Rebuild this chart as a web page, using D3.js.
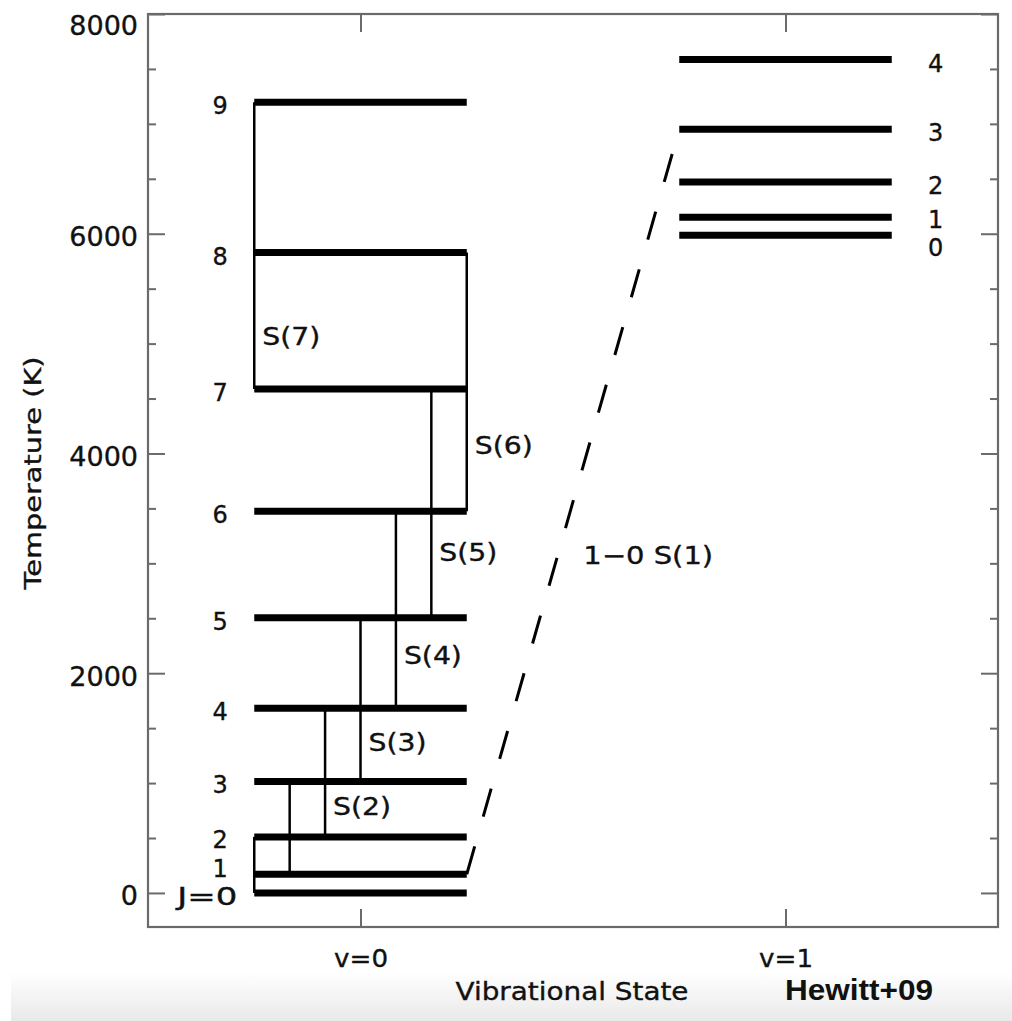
<!DOCTYPE html>
<html>
<head>
<meta charset="utf-8">
<script src="https://cdn.jsdelivr.net/npm/d3@7"></script>
<style>
  html, body { margin: 0; padding: 0; background: #fff; }
  svg { display: block; }
  text { font-family: "DejaVu Sans", sans-serif; fill: #111; stroke: #111; stroke-width: 0.35px; }
</style>
</head>
<body>
<svg id="chart" width="1012" height="1021"></svg>
<script>
// ---------- data ----------
const vibStates = ["v=0", "v=1"];
const v0Energy = [0, 170, 510, 1015, 1682, 2504, 3474, 4586, 5829, 7197];   // K, J = 0..9
const v0Labels = ["J=0", "1", "2", "3", "4", "5", "6", "7", "8", "9"];
const v1Energy = [5987, 6150, 6471, 6952, 7585];                             // K, J = 0..4
const v1Labels = ["0", "1", "2", "3", "4"];
const sLower = [0, 1, 2, 3, 4, 5, 6, 7];                                     // S(J): J+2 -> J
const sLabels = ["", "", "S(2)", "S(3)", "S(4)", "S(5)", "S(6)", "S(7)"];
const sLabelT = [null, null, 790, 1370, 2170, 3100, 4080, 5070];             // K, where label sits
const yTickValues = [0, 2000, 4000, 6000, 8000];
const yMinorValues = [500, 1000, 1500, 2500, 3000, 3500, 4500, 5000, 5500, 6500, 7000, 7500];
const lineLabel = "1\u22120 S(1)";
const axisTitleY = "Temperature (K)";
const axisTitleX = "Vibrational State";
const credit = "Hewitt+09";

// ---------- layout ----------
const svg = d3.select("#chart");
const L = 148, R = 998, T = 14, B = 927;
const x = d3.scaleLinear().domain([-0.5, 1.5]).range([L, R]);
const y = d3.scaleLinear().domain([-310, 8000]).range([B, T]);
const halfW = 0.25;
const axisColor = "#6a6a6a";

// bottom grey band (screenshot shading)
const defs = svg.append("defs");
const grad = defs.append("linearGradient").attr("id", "band").attr("x1", 0).attr("x2", 0).attr("y1", 0).attr("y2", 1);
grad.append("stop").attr("offset", "0%").attr("stop-color", "#ffffff");
grad.append("stop").attr("offset", "100%").attr("stop-color", "#e9e9e9");
svg.append("rect").attr("x", 11).attr("y", 972).attr("width", 1001).attr("height", 49).attr("fill", "url(#band)");

// axes: left / right with inward ticks
function styleAxis(g) {
  g.select(".domain").remove();
  g.selectAll(".tick line").attr("stroke", axisColor).attr("stroke-width", 2);
}
const gl = svg.append("g").attr("transform", `translate(${L},0)`)
  .call(d3.axisLeft(y).tickValues(yTickValues).tickSize(-17).tickPadding(10).tickFormat(d3.format("d")));
styleAxis(gl);
gl.selectAll(".tick text").attr("font-size", 27).attr("fill", "#111")
  .attr("dy", null)
  .each(function(d) { d3.select(this).attr("y", Math.max(y(d) + 12, 34) - y(d)); });
const glm = svg.append("g").attr("transform", `translate(${L},0)`)
  .call(d3.axisLeft(y).tickValues(yMinorValues).tickSize(-8).tickFormat(""));
styleAxis(glm);
const gr = svg.append("g").attr("transform", `translate(${R},0)`)
  .call(d3.axisRight(y).tickValues(yTickValues).tickSize(-17).tickFormat(""));
styleAxis(gr);
const grm = svg.append("g").attr("transform", `translate(${R},0)`)
  .call(d3.axisRight(y).tickValues(yMinorValues).tickSize(-8).tickFormat(""));
styleAxis(grm);

// bottom / top axis
const gb = svg.append("g").attr("transform", `translate(0,${B})`)
  .call(d3.axisBottom(x).tickValues([0, 1]).tickSize(-18).tickFormat((d, i) => vibStates[i]));
styleAxis(gb);
gb.selectAll(".tick text").attr("font-size", 25).attr("fill", "#111").attr("dy", null).attr("y", 40)
  .attr("textLength", 54).attr("lengthAdjust", "spacingAndGlyphs");
const gt = svg.append("g").attr("transform", `translate(0,${T})`)
  .call(d3.axisTop(x).tickValues([0, 1]).tickSize(-18).tickFormat(""));
styleAxis(gt);

// frame
svg.append("rect").attr("x", L).attr("y", T).attr("width", R - L).attr("height", B - T)
  .attr("fill", "none").attr("stroke", axisColor).attr("stroke-width", 2.2);

// ---------- energy levels ----------
const gLev = svg.append("g");
gLev.selectAll("line.v0").data(v0Energy).join("line").attr("class", "v0")
  .attr("x1", x(-halfW)).attr("x2", x(halfW))
  .attr("y1", d => y(d)).attr("y2", d => y(d))
  .attr("stroke", "#000").attr("stroke-width", 7);
gLev.selectAll("line.v1").data(v1Energy).join("line").attr("class", "v1")
  .attr("x1", x(1 - halfW)).attr("x2", x(1 + halfW))
  .attr("y1", d => y(d)).attr("y2", d => y(d))
  .attr("stroke", "#000").attr("stroke-width", 7);

// level labels (small nudges keep the crowded low-J labels apart)
const v0Nudge = [0, -9, -1, 0, 0, 0, 0, 0, 0, 0];
gLev.selectAll("text.v0").data(v0Energy).join("text").attr("class", "v0")
  .attr("x", (d, i) => v0Labels[i].length > 1 ? x(-halfW) - 17 : x(-halfW) - 34)
  .attr("text-anchor", (d, i) => v0Labels[i].length > 1 ? "end" : "middle")
  .attr("y", (d, i) => y(d) + 12 + v0Nudge[i])
  .attr("font-size", 24)
  .text((d, i) => v0Labels[i]);
gLev.select("text.v0").attr("textLength", 60).attr("lengthAdjust", "spacingAndGlyphs");
const v1Nudge = [9, -1, 0, 0, 0];
gLev.selectAll("text.v1").data(v1Energy).join("text").attr("class", "v1")
  .attr("x", x(1 + halfW) + 44).attr("text-anchor", "middle")
  .attr("y", (d, i) => y(d) + 12 + v1Nudge[i])
  .attr("font-size", 24)
  .text((d, i) => v1Labels[i]);

// ---------- S(J) transitions ----------
const sX = j => j <= 6 ? -halfW + j / 12 : -halfW;
const gS = svg.append("g");
gS.selectAll("line").data(sLower).join("line")
  .attr("x1", j => x(sX(j))).attr("x2", j => x(sX(j)))
  .attr("y1", j => y(v0Energy[j])).attr("y2", j => y(v0Energy[j + 2]))
  .attr("stroke", "#000").attr("stroke-width", 2.5);
gS.selectAll("text").data(sLower.filter(j => sLabels[j])).join("text")
  .attr("x", j => x(sX(j)) + 8)
  .attr("y", j => y(sLabelT[j]) + 9)
  .attr("font-size", 24)
  .attr("textLength", 58).attr("lengthAdjust", "spacingAndGlyphs")
  .text(j => sLabels[j]);

// ---------- 1-0 S(1) ----------
svg.append("line")
  .attr("x1", x(halfW)).attr("y1", y(v0Energy[1]))
  .attr("x2", x(1 - halfW)).attr("y2", y(v1Energy[3]))
  .attr("stroke", "#000").attr("stroke-width", 3)
  .attr("stroke-dasharray", "29,31");
svg.append("text").attr("x", x(0.524)).attr("y", y(2990))
  .attr("font-size", 24).attr("textLength", 130).attr("lengthAdjust", "spacingAndGlyphs")
  .text(lineLabel);

// ---------- titles ----------
svg.append("text").attr("transform", `translate(41,${473}) rotate(-90)`)
  .attr("text-anchor", "middle").attr("font-size", 23)
  .attr("textLength", 233).attr("lengthAdjust", "spacingAndGlyphs")
  .text(axisTitleY);
svg.append("text").attr("x", 572).attr("y", 1000).attr("text-anchor", "middle")
  .attr("font-size", 24).attr("textLength", 233).attr("lengthAdjust", "spacingAndGlyphs")
  .text(axisTitleX);
svg.append("text").attr("x", 785).attr("y", 1000)
  .style("font-family", "'Liberation Sans', Arial, sans-serif").style("stroke", "none")
  .attr("font-weight", "bold")
  .attr("font-size", 30).attr("textLength", 148).attr("lengthAdjust", "spacingAndGlyphs")
  .attr("fill", "#000")
  .text(credit);
</script>
</body>
</html>
